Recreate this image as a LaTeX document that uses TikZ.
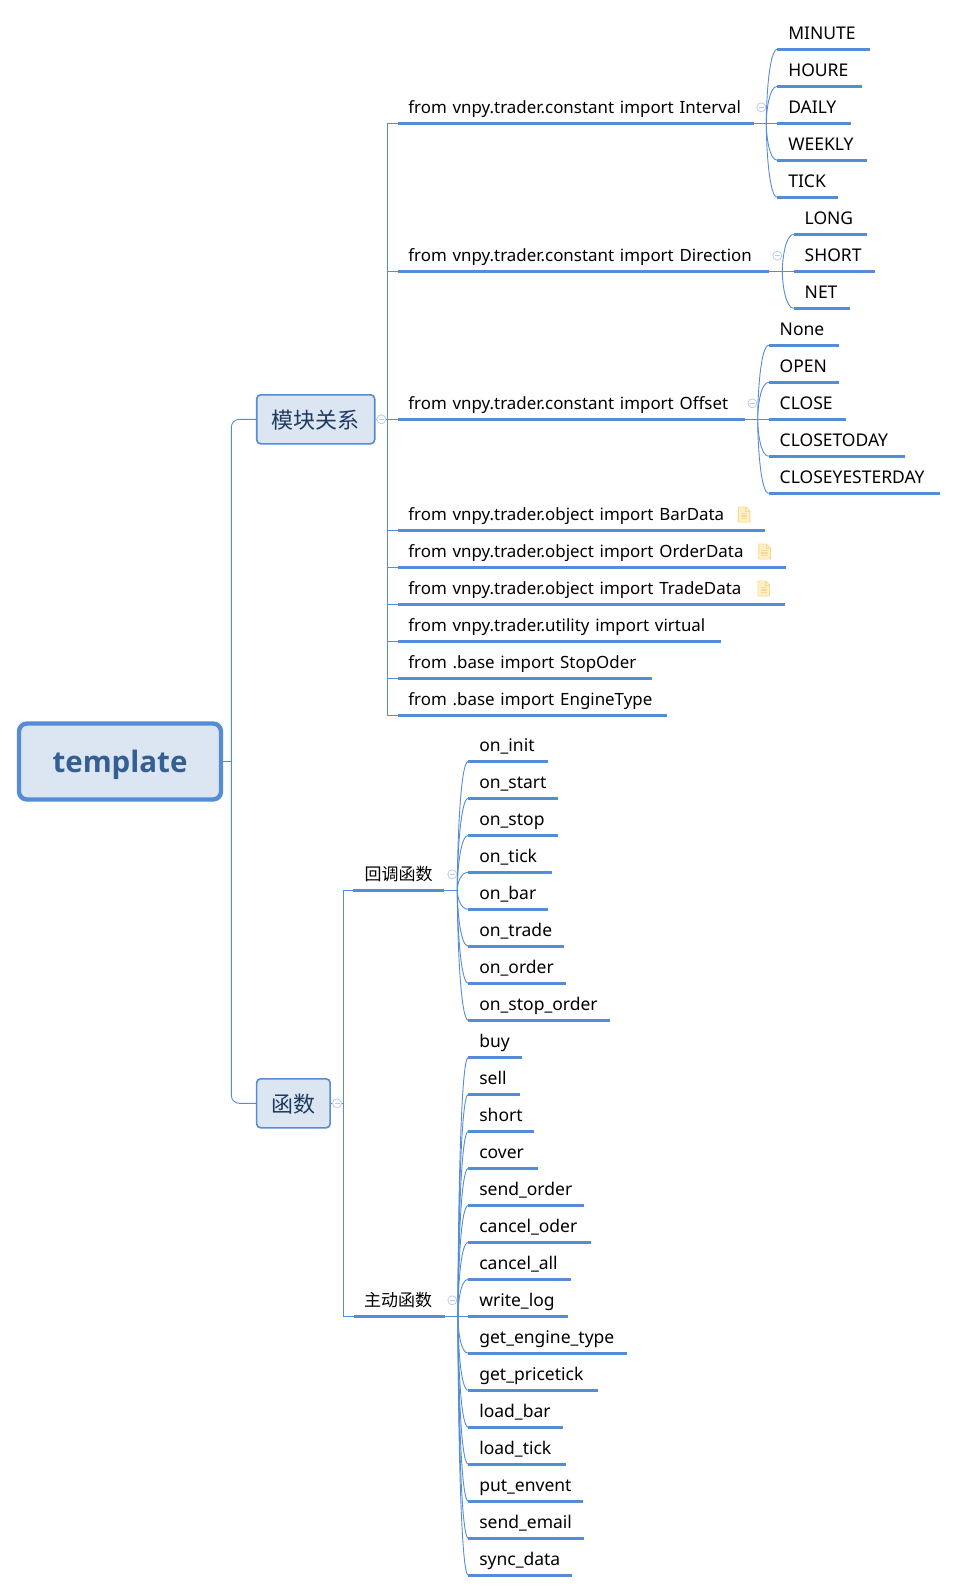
\documentclass[tikz,border=0pt]{standalone}
\usepackage{fontspec}
\setmainfont{Noto Sans}
\newfontfamily\cjk{Noto Sans CJK SC}
\newfontfamily\tplfont{Open Sans}
\usetikzlibrary{calc}
\definecolor{lineblue}{HTML}{558CD6}
\definecolor{boxfill}{HTML}{DCE6F2}
\definecolor{tpltext}{HTML}{355E92}
\definecolor{subtext}{HTML}{1F3A60}
\definecolor{foldblue}{HTML}{BCCBEA}
\definecolor{noteedge}{HTML}{FAD88E}
\definecolor{notefill}{HTML}{FFF1CC}
\tikzset{
  conn/.style={draw=lineblue,line width=0.9pt},
  under/.style={draw=lineblue,line width=3pt},
  leafnode/.style={inner xsep=0pt,inner ysep=5pt,text height=14pt,text depth=5pt,anchor=south west,align=left,font=\fontsize{17.5}{20}\selectfont},
  subbox/.style={draw=lineblue,line width=1.6pt,fill=boxfill,rounded corners=4pt,inner sep=0pt,text=subtext,text height=20pt,text depth=2pt,font=\fontsize{22}{24}\selectfont\cjk},
  rootbox/.style={draw=lineblue,line width=4.4pt,fill=boxfill,rounded corners=8pt,inner sep=0pt,text=tpltext,text height=26pt,text depth=3.6pt,font=\fontsize{29.5}{34}\selectfont\tplfont\bfseries},
  foldmark/.style={circle,draw=foldblue,fill=white,line width=0.8pt,minimum size=9pt,inner sep=0pt},
}
\newcommand{\leaf}[6][10.8]{%
  \node[leafnode,text width=\dimexpr #4pt-#3pt\relax] (#2) at (#3,#5) {\hspace*{#1pt}\mbox{#6}};
  \draw[under] (#2.south west) -- (#2.south east);}
\newcommand{\sectxt}{\fontsize{16.9}{20}\selectfont}
\newcommand{\fold}[3]{%
  \node[foldmark] (#1) at (#2,#3) {};
  \draw[draw=foldblue,line width=0.8pt] ($(#1.center)+(-2.5,0)$) -- ($(#1.center)+(2.5,0)$);}
\newcommand{\kid}[2]{%
  \draw[conn] (#1) .. controls ($(#1)!0.35!(#1 |- #2.south west)$) and ($(#2.south west)+(-8,0)$) .. (#2.south west);}
\newcommand{\noteicon}[2]{%
  \begin{scope}[shift={(#1,#2)}]
    \draw[draw=noteedge,fill=notefill,line width=0.9pt,line join=round] (0,0) -- (7.5,0) -- (11.5,4) -- (11.5,15) -- (0,15) -- cycle;
    \draw[draw=noteedge,line width=0.9pt] (7.5,0) -- (7.5,4) -- (11.5,4);
    \draw[draw=noteedge,line width=1.1pt] (2.5,6.5) -- (9,6.5) (2.5,9) -- (9,9) (2.5,11.5) -- (9,11.5);
  \end{scope}}
\begin{document}
\begin{tikzpicture}[x=1pt,y=-1pt]
\useasboundingbox (0,0) rectangle (957,1592);
% root and main topics
\node[rootbox,minimum width=202pt,minimum height=76pt] (root) at (120,761.5) {template};
\node[subbox,minimum width=118pt,minimum height=49pt] (mod) at (315.7,419.3) {模块关系};
\node[subbox,minimum width=73.5pt,minimum height=49pt] (fun) at (293.4,1103.3) {函数};
\coordinate (rootj) at (231.3,761.5);
\draw[conn] (root.east) -- (rootj);
\draw[conn,rounded corners=8pt] (mod.west) -| (rootj) |- (fun.west);
% level 2 of the first branch
\leaf[10.4]{int}{397.7}{753.3}{123.3}{\sectxt from vnpy.trader.constant import Interval}
\leaf[10.4]{dir}{397.7}{769}{271.3}{\sectxt from vnpy.trader.constant import Direction}
\leaf[10.4]{off}{397.7}{744.3}{419.3}{\sectxt from vnpy.trader.constant import Offset}
\leaf[10.4]{bar}{397.7}{764.7}{530.3}{\sectxt from vnpy.trader.object import BarData}
\leaf[10.4]{ord}{397.7}{785.3}{567.3}{\sectxt from vnpy.trader.object import OrderData}
\leaf[10.4]{trd}{397.7}{784.7}{604.3}{\sectxt from vnpy.trader.object import TradeData}
\leaf[10.4]{vir}{397.7}{720.9}{641.3}{\sectxt from vnpy.trader.utility import virtual}
\leaf[10.4]{stp}{397.7}{651.8}{678.3}{\sectxt from .base import StopOder}
\leaf[10.4]{eng}{397.7}{667}{715.3}{\sectxt from .base import EngineType}
\coordinate (sp0) at (387.7,419.3);
\draw[conn] (mod.east) -- (off.south west);
\foreach \n in {int,dir,bar,ord,trd,vir,stp,eng} {\draw[conn] (sp0) |- (\n.south west);}
\noteicon{738.3}{507}
\noteicon{758.8}{544}
\noteicon{758}{581}
% Interval children
\leaf{minute}{777.3}{869.3}{49.3}{MINUTE}
\leaf{houre}{777.3}{861.7}{86.3}{HOURE}
\leaf{daily}{777.3}{850.3}{123.3}{DAILY}
\leaf{weekly}{777.3}{866.7}{160.3}{WEEKLY}
\leaf{tick}{777.3}{837.7}{197.3}{TICK}
\coordinate (sp1) at (766.3,123.3);
\draw[conn] (int.south east) -- (daily.south west);
\foreach \n in {minute,houre,weekly,tick} {\kid{sp1}{\n}}
% Direction children
\leaf{long}{793.7}{866.7}{234.3}{LONG}
\leaf{short}{793.7}{874.7}{271.3}{SHORT}
\leaf{net}{793.7}{849.7}{308.3}{NET}
\coordinate (sp2) at (782.3,271.3);
\draw[conn] (dir.south east) -- (short.south west);
\foreach \n in {long,net} {\kid{sp2}{\n}}
% Offset children
\leaf{none}{768.7}{838.7}{345.3}{None}
\leaf{open}{768.7}{838.7}{382.3}{OPEN}
\leaf{close}{768.7}{845.3}{419.3}{CLOSE}
\leaf{ctoday}{768.7}{904.7}{456.3}{CLOSETODAY}
\leaf{cyest}{768.7}{939.3}{493.3}{CLOSEYESTERDAY}
\coordinate (sp3) at (757.7,419.3);
\draw[conn] (off.south east) -- (close.south west);
\foreach \n in {none,open,ctoday,cyest} {\kid{sp3}{\n}}
% second branch
\node[leafnode,font=\fontsize{17}{20}\selectfont\cjk,text width=90.7pt] (cb) at (353.3,890.3) {\hspace*{11pt}回调函数};
\draw[under] (cb.south west) -- (cb.south east);
\node[leafnode,font=\fontsize{17}{20}\selectfont\cjk,text width=90.7pt] (act) at (354,1316.3) {\hspace*{9.8pt}主动函数};
\draw[under] (act.south west) -- (act.south east);
\coordinate (sp6) at (343.3,1103.3);
\draw[conn] (fun.east) -- (sp6);
\draw[conn] (cb.south west) -| (sp6) |- (act.south west);
% callbacks
\leaf{init}{468.3}{548}{761.3}{on\_init}
\leaf{start}{468.3}{557.4}{798.3}{on\_start}
\leaf{stop}{468.3}{557.4}{835.3}{on\_stop}
\leaf{otick}{468.3}{551.3}{872.3}{on\_tick}
\leaf{obar}{468.3}{548}{909.3}{on\_bar}
\leaf{otrade}{468.3}{563.5}{946.3}{on\_trade}
\leaf{oorder}{468.3}{565.5}{983.3}{on\_order}
\leaf{ostop}{468.3}{609.2}{1020.3}{on\_stop\_order}
\coordinate (sp4) at (457.3,890.3);
\draw[conn] (cb.south east) -- (sp4);
\foreach \n in {init,start,stop,otick,obar,otrade,oorder,ostop} {\kid{sp4}{\n}}
% active functions
\leaf{buy}{468.3}{521.9}{1057.3}{buy}
\leaf{sell}{468.3}{519.8}{1094.3}{sell}
\leaf{shrt}{468.3}{534}{1131.3}{short}
\leaf{cover}{468.3}{538}{1168.3}{cover}
\leaf{send}{468.3}{583.8}{1205.3}{send\_order}
\leaf{cancel}{468.3}{590.9}{1242.3}{cancel\_oder}
\leaf{call}{468.3}{570.6}{1279.3}{cancel\_all}
\leaf{wlog}{468.3}{567.5}{1316.3}{write\_log}
\leaf{gtype}{468.3}{626.4}{1353.3}{get\_engine\_type}
\leaf{gtick}{468.3}{598}{1390.3}{get\_pricetick}
\leaf{lbar}{468.3}{562.5}{1427.3}{load\_bar}
\leaf{ltick}{468.3}{565.5}{1464.3}{load\_tick}
\leaf{pute}{468.3}{582.8}{1501.3}{put\_envent}
\leaf{mail}{468.3}{583.8}{1538.3}{send\_email}
\leaf{sync}{468.3}{571.6}{1575.3}{sync\_data}
\coordinate (sp5) at (458,1316.3);
\draw[conn] (act.south east) -- (wlog.south west);
\foreach \n in {buy,sell,shrt,cover,send,cancel,call,gtype,gtick,lbar,ltick,pute,mail,sync} {\kid{sp5}{\n}}
% collapse marks
\fold{f1}{381.3}{419.3}
\fold{f2}{337}{1103.3}
\fold{f3}{761.3}{107.3}
\fold{f4}{777.3}{255.7}
\fold{f5}{752.3}{403.3}
\fold{f6}{452.3}{874.3}
\fold{f7}{452.3}{1300.3}
\end{tikzpicture}
\end{document}
